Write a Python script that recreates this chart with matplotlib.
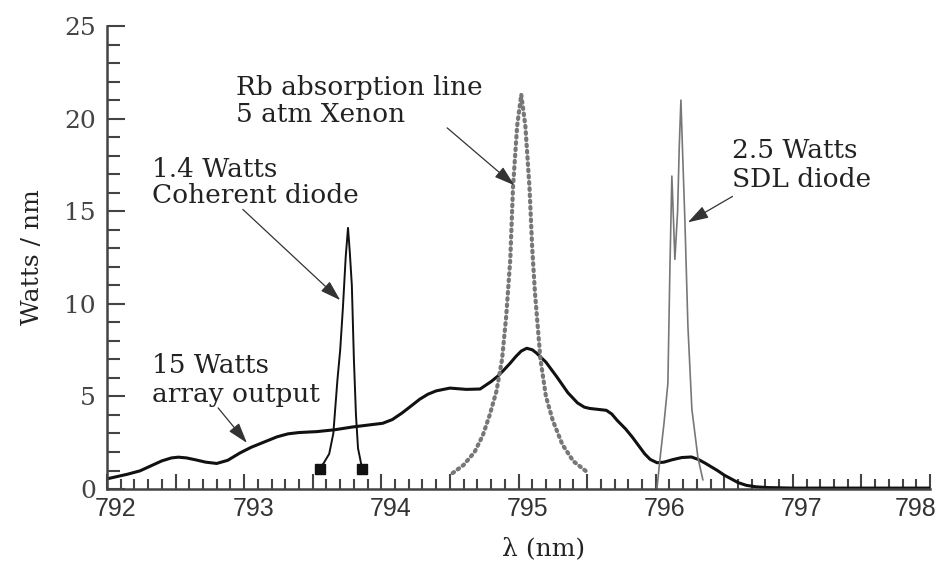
import matplotlib
matplotlib.use("Agg")
import matplotlib.pyplot as plt
from matplotlib.ticker import MultipleLocator, FuncFormatter
from matplotlib.transforms import ScaledTranslation

# ---- data (nm, Watts/nm) ----
array_nm = [792.00, 792.06, 792.15, 792.24, 792.32, 792.40, 792.47, 792.52, 792.58,
            792.65, 792.72, 792.80, 792.88, 792.97, 793.05, 793.14, 793.24, 793.32,
            793.40, 793.53, 793.66, 793.79, 793.90, 794.01, 794.08, 794.15, 794.22,
            794.28, 794.34, 794.40, 794.50, 794.62, 794.72, 794.80, 794.85, 794.89,
            794.94, 794.98, 795.02, 795.06, 795.10, 795.13, 795.20, 795.28, 795.36,
            795.43, 795.48, 795.52, 795.58, 795.64, 795.68, 795.72, 795.78, 795.83,
            795.88, 795.92, 795.96, 796.01, 796.06, 796.12, 796.19, 796.26, 796.31,
            796.36, 796.45, 796.50, 796.55, 796.60, 796.66, 796.73, 796.81, 797.00,
            798.00]
array_w = [0.55, 0.65, 0.80, 0.98, 1.25, 1.52, 1.68, 1.72, 1.68,
           1.57, 1.45, 1.38, 1.55, 1.95, 2.25, 2.52, 2.82, 2.98,
           3.05, 3.10, 3.20, 3.35, 3.45, 3.55, 3.75, 4.10, 4.50,
           4.85, 5.12, 5.30, 5.45, 5.38, 5.40, 5.80, 6.10, 6.40,
           6.80, 7.15, 7.45, 7.60, 7.52, 7.35, 6.85, 6.05, 5.20,
           4.65, 4.42, 4.35, 4.30, 4.25, 4.05, 3.70, 3.25, 2.80,
           2.30, 1.90, 1.60, 1.42, 1.45, 1.58, 1.70, 1.73, 1.60,
           1.40, 1.00, 0.75, 0.55, 0.35, 0.20, 0.12, 0.08, 0.05,
           0.05]

coherent_nm = [793.55, 793.58, 793.62, 793.65, 793.68, 793.70, 793.72, 793.74,
               793.757, 793.77, 793.785, 793.80, 793.815, 793.83, 793.86]
coherent_w = [1.1, 1.4, 1.9, 3.0, 5.9, 7.5, 9.8, 12.5,
              14.1, 12.8, 11.0, 7.0, 4.0, 2.2, 1.1]

rb_nm = [794.52, 794.60, 794.68, 794.74, 794.79, 794.84, 794.88, 794.91, 794.94,
         794.96, 794.99, 795.02, 795.05, 795.08, 795.10, 795.12, 795.16, 795.20,
         795.25, 795.32, 795.40, 795.51]
rb_w = [0.86, 1.3, 2.0, 2.9, 4.0, 5.3, 7.0, 9.3, 12.4,
        16.3, 19.6, 21.3, 19.6, 16.3, 13.0, 10.6, 7.0, 5.0,
        3.7, 2.4, 1.5, 0.86]

sdl_nm = [796.009, 796.031, 796.06, 796.089, 796.104, 796.118, 796.13, 796.14,
          796.16, 796.172, 796.184, 796.198, 796.213, 796.235, 796.264, 796.308, 796.344]
sdl_w = [0.0, 1.6, 3.5, 5.7, 12.0, 16.9, 14.5, 12.4,
         15.0, 18.5, 21.0, 17.8, 14.5, 8.8, 4.3, 1.7, 0.5]

SERIF = ["DejaVu Serif"]
SANS = ["Liberation Sans", "DejaVu Sans"]
TXT = "#222222"
AX = "#444444"


def note(ax, lines, x, ys, start, tip):
    for s, y in zip(lines, ys):
        ax.text(x, y, s, family=SERIF, fontsize=19, color=TXT,
                ha="left", va="baseline")
    ax.annotate("", xy=tip, xytext=start,
                arrowprops=dict(arrowstyle="-|>,head_length=0.7,head_width=0.22",
                                color="#333333", lw=0.9, mutation_scale=18,
                                shrinkA=0, shrinkB=0))


def main() -> None:
    fig = plt.figure(figsize=(9.46, 5.61), dpi=100)
    ax = fig.add_axes([0.1131, 0.1283, 0.870, 0.8253])

    ax.plot(array_nm, array_w, color="#111111", lw=2.2,
            solid_joinstyle="round", solid_capstyle="round")
    ax.plot(coherent_nm, coherent_w, color="#111111", lw=1.4,
            marker="s", ms=6.5, markevery=[0, len(coherent_nm) - 1])
    ax.plot(rb_nm, rb_w, color="#777777", lw=3.0,
            linestyle=(0, (0.4, 1.1)), dash_capstyle="round")
    ax.plot(sdl_nm, sdl_w, color="#777777", lw=1.2)

    ax.set_xlim(792, 798)
    ax.set_ylim(0, 25)

    for side in ("top", "right"):
        ax.spines[side].set_visible(False)
    for side in ("left", "bottom"):
        ax.spines[side].set_color(AX)
        ax.spines[side].set_linewidth(1.8)

    ax.xaxis.set_major_locator(MultipleLocator(0.5))
    ax.xaxis.set_minor_locator(MultipleLocator(0.1))
    ax.xaxis.set_major_formatter(
        FuncFormatter(lambda v, p: f"{v:.0f}" if abs(v - round(v)) < 1e-6 else ""))
    ax.yaxis.set_major_locator(MultipleLocator(5))
    ax.yaxis.set_minor_locator(MultipleLocator(1))

    ax.tick_params(axis="x", which="major", direction="in", length=11, width=1.5,
                   color=AX, pad=6, labelsize=18, labelcolor="#333333")
    ax.tick_params(axis="x", which="minor", direction="in", length=7, width=1.5,
                   color=AX)
    ax.tick_params(axis="y", which="major", direction="in", length=13, width=1.5,
                   color=AX, pad=8, labelsize=18, labelcolor="#444444")
    ax.tick_params(axis="y", which="minor", direction="in", length=9, width=1.5,
                   color=AX)

    # labels in the original sit a little right of their ticks; the last one is pulled in
    locs = ax.get_xticks()
    for loc, tick in zip(locs, ax.xaxis.get_major_ticks()):
        dx = -14 if loc >= 797.99 else 9
        lab = tick.label1
        lab.set_family(SANS)
        lab.set_transform(lab.get_transform()
                          + ScaledTranslation(dx / 100, 0, fig.dpi_scale_trans))
    for lab in ax.get_yticklabels():
        lab.set_family(SERIF)

    ax.set_xlabel("λ (nm)", family=SERIF, fontsize=18, color=TXT)
    ax.xaxis.set_label_coords(0.53, -0.105)
    ax.set_ylabel("Watts / nm", family=SERIF, fontsize=18, color=TXT)
    ax.yaxis.set_label_coords(-0.076, 0.5)

    note(ax, ["1.4 Watts", "Coherent diode"], 792.33, [16.86, 15.46],
         (792.99, 15.1), (793.70, 10.2))
    note(ax, ["Rb absorption line", "5 atm Xenon"], 792.94, [21.3, 19.84],
         (794.48, 19.5), (794.97, 16.4))
    note(ax, ["2.5 Watts", "SDL diode"], 796.56, [17.9, 16.3],
         (796.56, 15.8), (796.235, 14.4))
    note(ax, ["15 Watts", "array output"], 792.33, [6.27, 4.70],
         (792.81, 4.38), (793.02, 2.49))

    fig.savefig("out.png", dpi=100)
    plt.close(fig)


if __name__ == "__main__":
    main()
